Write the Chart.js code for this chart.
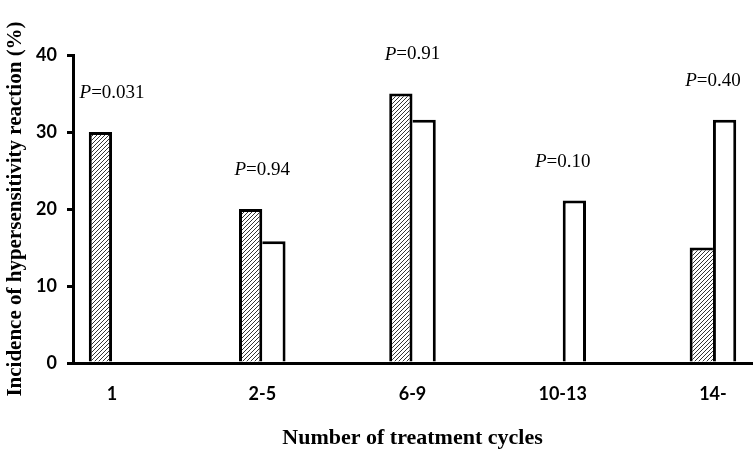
<!DOCTYPE html>
<html><head><meta charset="utf-8">
<script src="https://cdn.jsdelivr.net/npm/chart.js@4/dist/chart.umd.min.js"></script>
<style>html,body{margin:0;padding:0;background:#fff}#wrap{width:755px;height:453px}</style>
</head><body>
<div id="wrap"><canvas id="c" width="755" height="453"></canvas></div>
<script>
const categories = ['1', '2-5', '6-9', '10-13', '14-'];
const hatchedValues = [30, 20, 35, null, 15];
const openValues = [null, 15.8, 31.6, 21.1, 31.6];
const pValues = ['0.031', '0.94', '0.91', '0.10', '0.40'];
const yTickValues = [0, 10, 20, 30, 40];

const canvas = document.getElementById('c');
const mainCtx = canvas.getContext('2d');

function makeHatch() {
  const s = 4;
  const c = document.createElement('canvas');
  c.width = s; c.height = s;
  const g = c.getContext('2d');
  g.fillStyle = '#fff'; g.fillRect(0, 0, s, s);
  g.strokeStyle = '#333'; g.lineWidth = 1;
  g.beginPath();
  g.moveTo(0, s); g.lineTo(s, 0);
  g.moveTo(-1, 1); g.lineTo(1, -1);
  g.moveTo(s - 1, s + 1); g.lineTo(s + 1, s - 1);
  g.stroke();
  return mainCtx.createPattern(c, 'repeat');
}
const hatch = makeHatch();

// shared inner edge: the taller bar of a pair carries the dividing line
function hatchedBorder(ctx) {
  const i = ctx.dataIndex;
  const h = hatchedValues[i], o = openValues[i];
  if (h != null && o != null && o > h) return {top: 3, left: 3, right: 0, bottom: 0};
  return 3;
}
function openBorder(ctx) {
  const i = ctx.dataIndex;
  const h = hatchedValues[i], o = openValues[i];
  if (h != null && o != null && h >= o) return {top: 3, right: 3, left: 0, bottom: 0};
  return 3;
}

const pLabelPlugin = {
  id: 'pLabels',
  afterDatasetsDraw(chart) {
    const {ctx, scales: {x, y}} = chart;
    ctx.save();
    ctx.fillStyle = '#000';
    ctx.textBaseline = 'middle';
    ctx.textAlign = 'left';
    categories.forEach((c, i) => {
      const top = Math.max(hatchedValues[i] ?? 0, openValues[i] ?? 0);
      const cy = y.getPixelForValue(top) - 39;
      const cx = x.getPixelForValue(i);
      const it = 'italic 19px "Liberation Serif", "Times New Roman", serif';
      const rg = '19px "Liberation Serif", "Times New Roman", serif';
      ctx.font = it; const w1 = ctx.measureText('P').width;
      const t2 = '=' + pValues[i];
      ctx.font = rg; const w2 = ctx.measureText(t2).width;
      const sx = cx - (w1 + w2) / 2;
      ctx.font = it; ctx.fillText('P', sx, cy);
      ctx.font = rg; ctx.fillText(t2, sx + w1, cy);
    });
    ctx.restore();
  }
};

new Chart(canvas, {
  type: 'bar',
  data: {
    datasets: [
      {
        label: 'A',
        data: hatchedValues.map((v, i) => ({x: i, y: v})),
        backgroundColor: hatch,
        borderColor: '#000',
        borderWidth: hatchedBorder,
        borderSkipped: 'start'
      },
      {
        label: 'B',
        data: openValues.map((v, i) => ({x: i, y: v})),
        backgroundColor: '#fff',
        borderColor: '#000',
        borderWidth: openBorder,
        borderSkipped: 'start'
      }
    ]
  },
  options: {
    responsive: false,
    animation: false,
    events: [],
    categoryPercentage: 0.31,
    barPercentage: 1,
    layout: {padding: {top: 55, right: 3, left: 0, bottom: 0}},
    plugins: {legend: {display: false}, tooltip: {enabled: false}},
    scales: {
      x: {
        type: 'linear',
        offset: false,
        min: -0.26,
        max: 4.26,
        afterBuildTicks: (s) => { s.ticks = categories.map((c, i) => ({value: i})); },
        afterFit: (s) => { s.height = 90; },
        grid: {display: false, offset: false},
        border: {display: true, color: '#000', width: 3},
        ticks: {
          color: '#000',
          padding: 12,
          font: {family: 'Lato', weight: 'bold', size: 18},
          callback: (v) => categories[v] ?? ''
        },
        title: {
          display: true,
          text: 'Number of treatment cycles',
          color: '#000',
          font: {family: '"Liberation Serif"', weight: 'bold', size: 22},
          padding: {top: 0, bottom: 1}
        }
      },
      y: {
        min: 0,
        max: 40,
        afterBuildTicks: (s) => { s.ticks = yTickValues.map(v => ({value: v})); },
        afterFit: (s) => { s.width = 73; },
        grid: {display: true, drawOnChartArea: false, drawTicks: true, tickLength: 6, color: '#000', lineWidth: 3},
        border: {display: true, color: '#000', width: 3},
        ticks: {
          color: '#000',
          padding: 10,
          font: {family: 'Lato', weight: 'bold', size: 18}
        },
        title: {
          display: true,
          text: 'Incidence of hypersensitivity reaction (%)',
          color: '#000',
          font: {family: '"Liberation Serif"', weight: 'bold', size: 21},
          padding: {top: 3, bottom: 0}
        }
      }
    }
  },
  plugins: [pLabelPlugin]
});
</script>
</body></html>
